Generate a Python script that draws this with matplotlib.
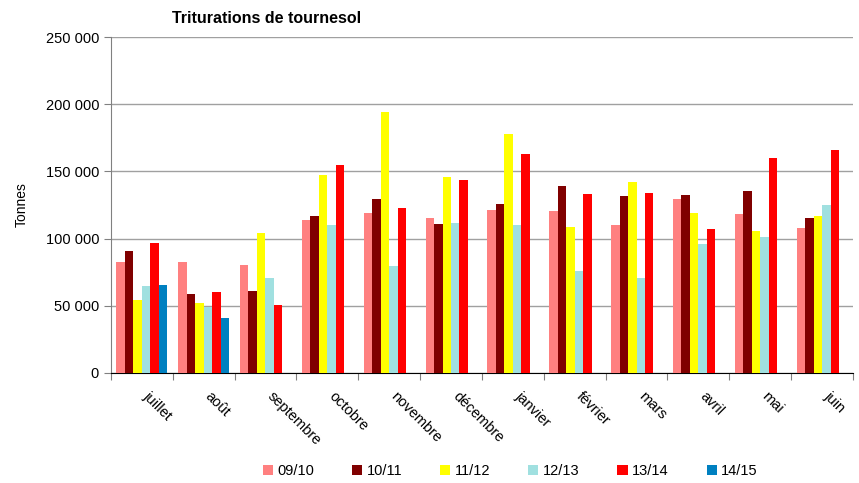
import numpy as np
import matplotlib.pyplot as plt
import matplotlib.transforms as mtransforms
from matplotlib.ticker import FuncFormatter

plt.rcParams['font.family'] = ['Liberation Sans', 'DejaVu Sans']

# Monthly values (tonnes)
months = ['juillet', 'août', 'septembre', 'octobre', 'novembre', 'décembre',
          'janvier', 'février', 'mars', 'avril', 'mai', 'juin']
seasons = ['09/10', '10/11', '11/12', '12/13', '13/14', '14/15']

s0910 = [82400, 82700, 80000, 113900, 119100, 115300, 121000, 120500, 110400, 129200, 118300, 107900]
s1011 = [90800, 58900, 61100, 116800, 129500, 110900, 125700, 139100, 131700, 132400, 135400, 115300]
s1112 = [54500, 52200, 104200, 147300, 194300, 145800, 177700, 108700, 142100, 119100, 105700, 116800]
s1213 = [64900, 48800, 70800, 110100, 79700, 111600, 110100, 76000, 70800, 96000, 101200, 125000]
s1314 = [96800, 60400, 50700, 154700, 122800, 143600, 162900, 133200, 133900, 107200, 159900, 165800]
s1415 = [65600, 41100]

series = [s0910, s1011, s1112, s1213, s1314, s1415]
colors = ['#FF8080', '#800000', '#FFFF00', '#A0E0E0', '#FF0000', '#0080C0']

fig = plt.figure(figsize=(8.59, 4.83), dpi=100)
ax = fig.add_axes([0.129, 0.228, 0.864, 0.695])

x = np.arange(len(months))
w = 0.137
for i, (vals, c, lab) in enumerate(zip(series, colors, seasons)):
    xs = x[:len(vals)] + (i - 2.5) * w
    ax.bar(xs, vals, width=w, color=c, label=lab, zorder=3)

ax.set_xlim(-0.5, len(months) - 0.5)
ax.set_ylim(0, 250000)
ax.set_yticks(np.arange(0, 250001, 50000))
ax.yaxis.set_major_formatter(FuncFormatter(lambda v, p: f'{int(v):,}'.replace(',', ' ')))
ax.grid(axis='y', color='#a0a0a0', linewidth=1, zorder=0)

ax.set_xticks(np.arange(-0.5, len(months), 1))
ax.set_xticklabels([])
ax.set_xticks(x, minor=True)
ax.set_xticklabels(months, minor=True, rotation=-45, ha='left', va='top',
                   rotation_mode='anchor', fontsize=10.5)
ax.tick_params(axis='x', which='minor', length=0, pad=12)
ax.tick_params(axis='x', which='major', length=5, color='#808080', direction='out')
ax.tick_params(axis='y', length=5, color='#808080', labelsize=10.5)

# nudge month labels to the right, like the original
shift = mtransforms.ScaledTranslation(9 / 100, 0, fig.dpi_scale_trans)
for lbl in ax.get_xticklabels(minor=True):
    lbl.set_transform(lbl.get_transform() + shift)

for s in ['top', 'right']:
    ax.spines[s].set_visible(False)
ax.spines['left'].set_color('#808080')
ax.spines['bottom'].set_color('#000000')

ax.set_ylabel('Tonnes', fontsize=10, labelpad=12)
fig.text(0.31, 0.962, 'Triturations de tournesol', fontsize=11.5, fontweight='bold', ha='center', va='center')

fig.legend(loc='lower center', bbox_to_anchor=(0.594, -0.017), ncol=6, frameon=False,
           fontsize=10.5, handlelength=0.7, handleheight=0.7, handletextpad=0.3,
           columnspacing=2.6)

fig.savefig('out.png', dpi=100)
